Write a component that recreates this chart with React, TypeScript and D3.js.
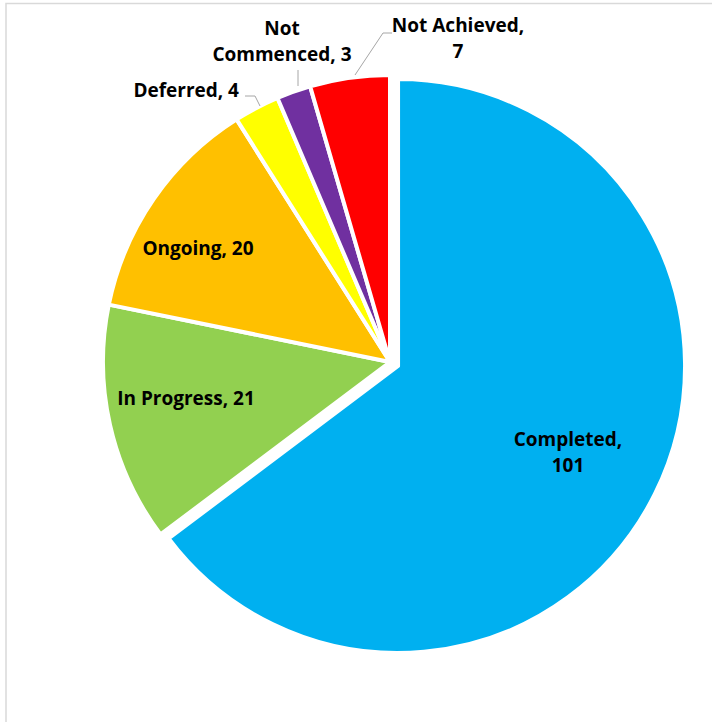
import React from "react";
import * as d3 from "d3";

const categories = ["Completed", "In Progress", "Ongoing", "Deferred", "Not Commenced", "Not Achieved"];
const values = [101, 21, 20, 4, 3, 7];
const colors = ["#00B0F0", "#92D050", "#FFC000", "#FFFF00", "#7030A0", "#FF0000"];

const W = 712;
const H = 722;
const cx = 390;
const cy = 362;
const R = 287;
const FONT = "'Open Sans', Lato, sans-serif";

// label layout: lines, anchor x, first baseline y
const labelLayout = [
  { lines: ["Completed,", "101"], x: 568, y: 446, anchor: "middle" },
  { lines: ["In Progress, 21"], x: 186, y: 405, anchor: "middle" },
  { lines: ["Ongoing, 20"], x: 198, y: 255, anchor: "middle" },
  { lines: ["Deferred, 4"], x: 239, y: 97, anchor: "end" },
  { lines: ["Not", "Commenced, 3"], x: 282, y: 35, anchor: "middle" },
  { lines: ["Not Achieved,", "7"], x: 458, y: 32, anchor: "middle" },
];
const leaders: [number, number][][] = [
  [],
  [],
  [],
  [[245, 96], [255, 96], [260, 106]],
  [[298, 70], [298, 86]],
  [[392, 33], [383, 33], [355, 75]],
];

export default function App() {
  const pie = d3.pie<number>().sort(null).value((d) => d)(values);
  const arc = d3.arc<d3.PieArcDatum<number>>().innerRadius(0).outerRadius(R);
  const explode = 9;
  return (
    <svg width={W} height={H} style={{ position: "absolute", left: 0, top: 0, background: "#fff" }}>
      <rect x={6} y={3.5} width={W + 20} height={H + 20} fill="#fff" stroke="#d9d9d9" strokeWidth={1.5} />
      {pie.map((p, i) => {
        const mid = (p.startAngle + p.endAngle) / 2;
        const off = i === 0 ? explode : 0;
        const dx = Math.sin(mid) * off;
        const dy = -Math.cos(mid) * off;
        return (
          <path
            key={categories[i]}
            d={arc(p) || ""}
            transform={`translate(${cx + dx},${cy + dy})`}
            fill={colors[i]}
            stroke="#fff"
            strokeWidth={4}
            strokeLinejoin="round"
          />
        );
      })}
      {leaders.map((pts, i) =>
        pts.length ? (
          <polyline key={"l" + i} points={pts.map((p) => p.join(",")).join(" ")} fill="none" stroke="#a6a6a6" strokeWidth={1} />
        ) : null
      )}
      {labelLayout.map((l, i) => (
        <text
          key={"t" + i}
          x={l.x}
          y={l.y}
          textAnchor={l.anchor as any}
          fontFamily={FONT}
          fontWeight="bold"
          fontSize={19}
          fill="#000"
        >
          {l.lines.map((ln, j) => (
            <tspan key={j} x={l.x} dy={j === 0 ? 0 : 26}>
              {ln}
            </tspan>
          ))}
        </text>
      ))}
    </svg>
  );
}
